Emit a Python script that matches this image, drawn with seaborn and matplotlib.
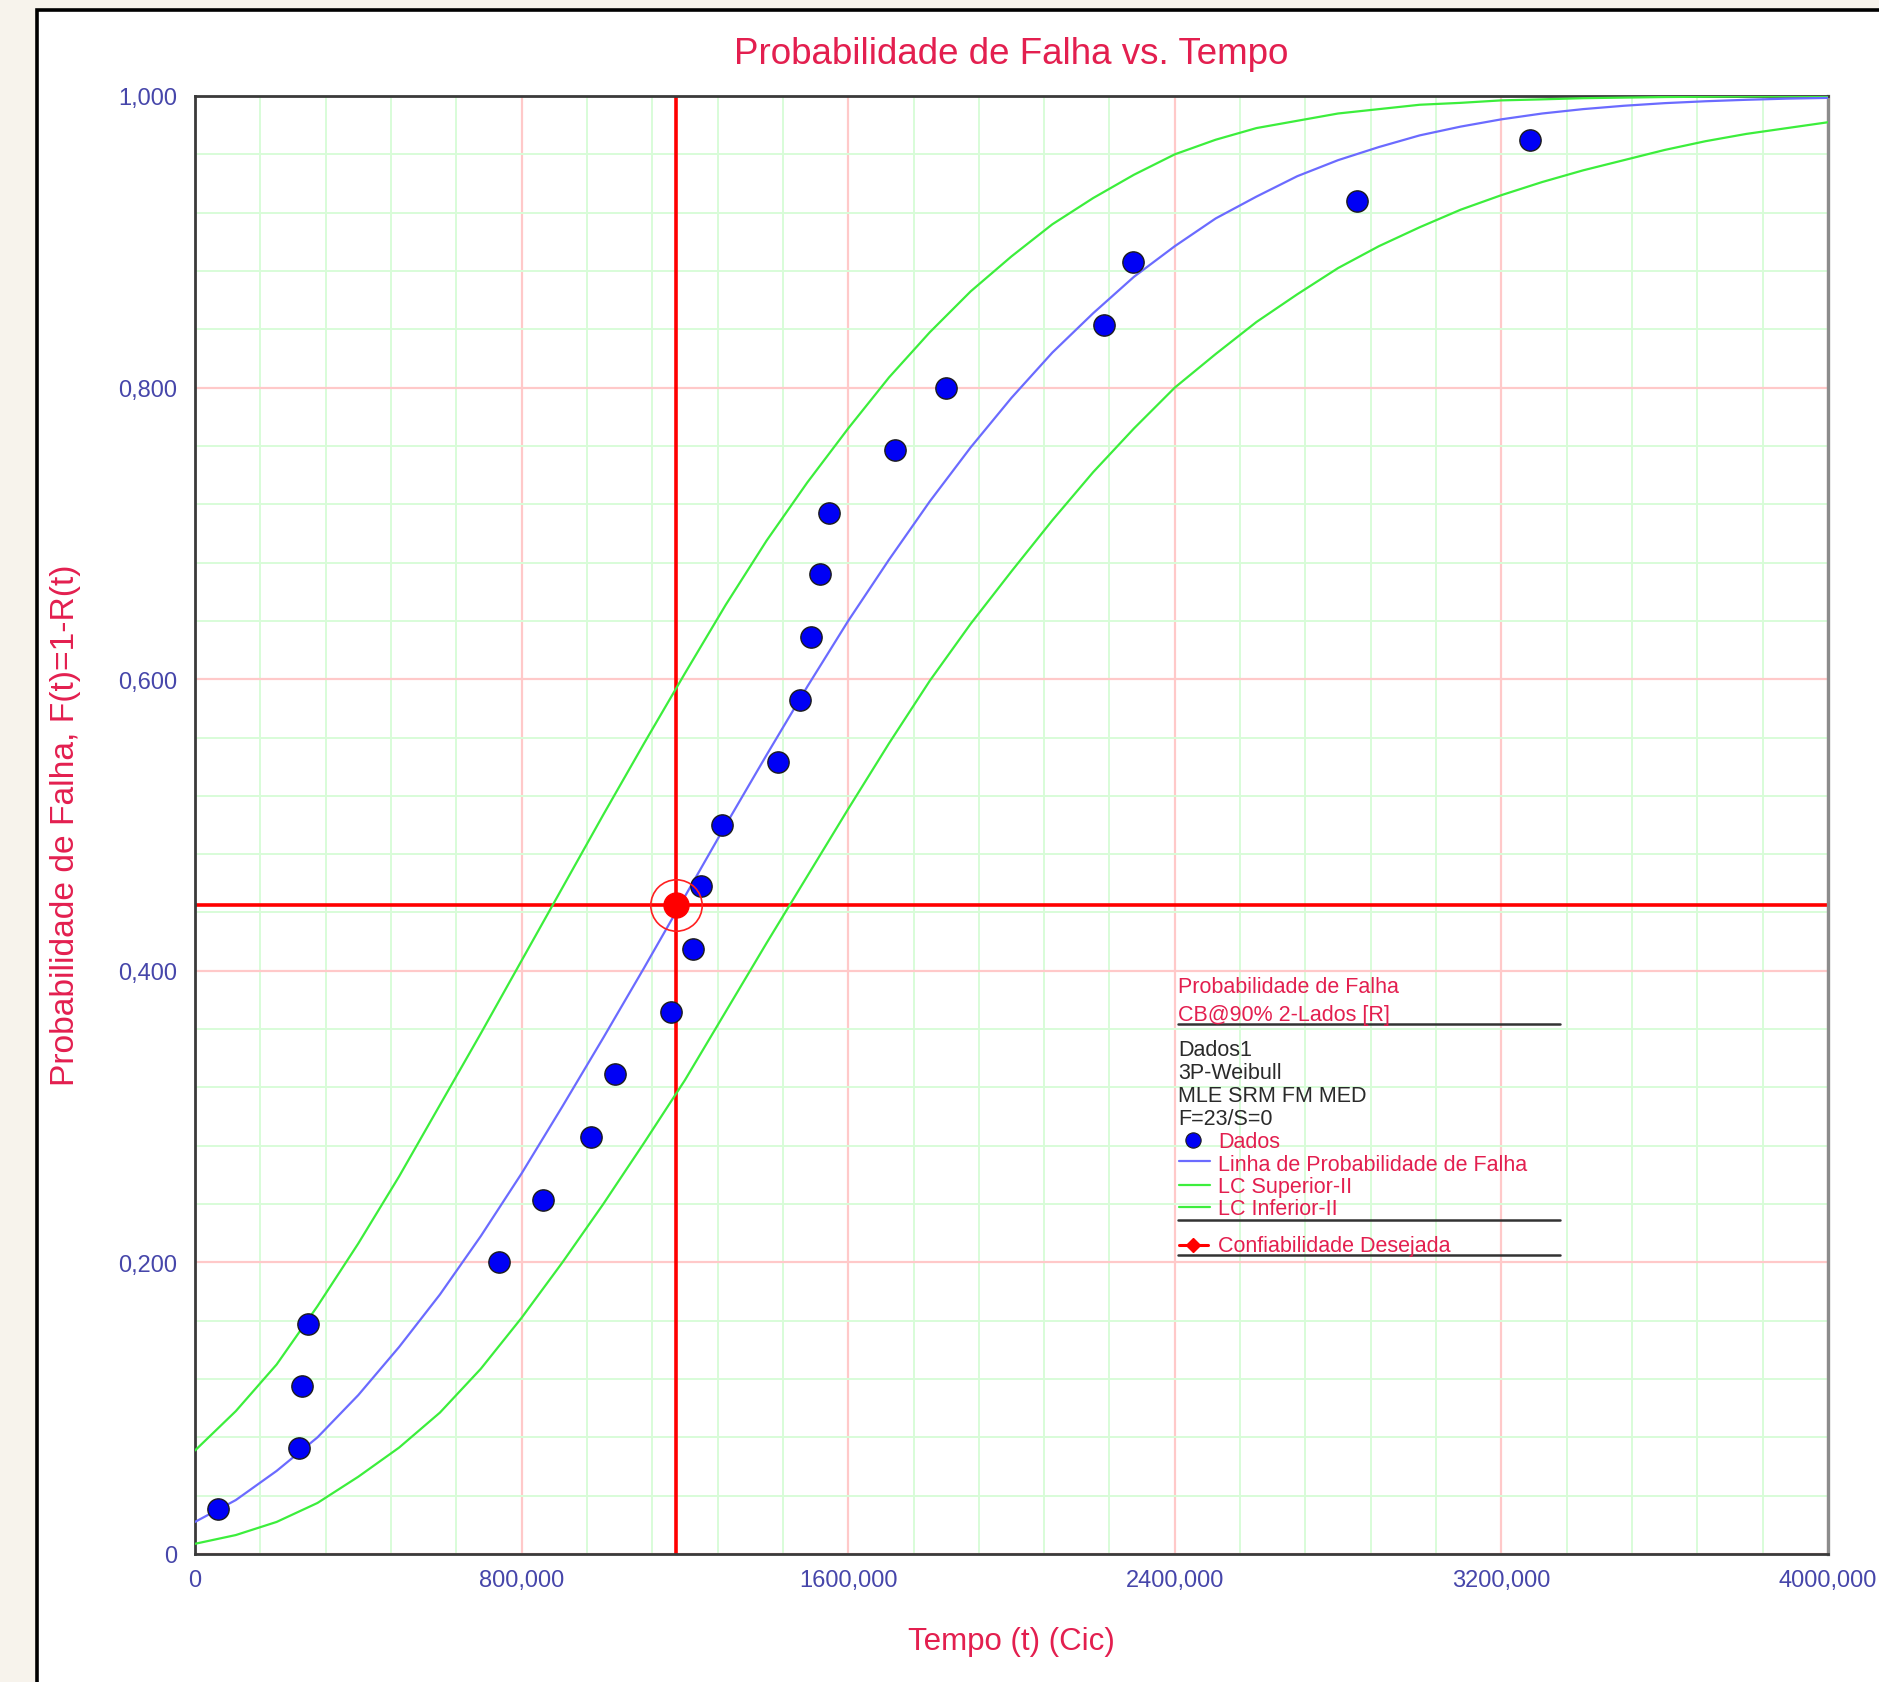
import numpy as np
import pandas as pd

import matplotlib
matplotlib.use("Agg")
import matplotlib.pyplot as plt
from matplotlib.patches import Rectangle
from matplotlib.lines import Line2D
import seaborn as sns

# --- dados ------------------------------------------------------------------
tempo_dados = [55600, 254700, 261300, 277600, 743600, 853000, 969000, 1028800,
               1165000, 1219600, 1240000, 1291000, 1427800, 1482000, 1510000,
               1530000, 1552000, 1713700, 1840500, 2227000, 2298000, 2847000,
               3269600]
prob_dados = [0.031, 0.073, 0.115, 0.158, 0.200, 0.243, 0.286, 0.329, 0.372,
              0.415, 0.458, 0.500, 0.543, 0.586, 0.629, 0.672, 0.714, 0.757,
              0.800, 0.843, 0.886, 0.928, 0.970]

# curvas lidas a cada 100.000 ciclos
tempo_curva = [0, 100000, 200000, 300000, 400000, 500000, 600000, 700000,
               800000, 900000, 1000000, 1100000, 1200000, 1300000, 1400000,
               1500000, 1600000, 1700000, 1800000, 1900000, 2000000, 2100000,
               2200000, 2300000, 2400000, 2500000, 2600000, 2700000, 2800000,
               2900000, 3000000, 3100000, 3200000, 3300000, 3400000, 3500000,
               3600000, 3700000, 3800000, 3900000, 4000000]
prob_linha = [0.022, 0.037, 0.057, 0.080, 0.109, 0.142, 0.178, 0.218, 0.261,
              0.307, 0.354, 0.402, 0.451, 0.500, 0.548, 0.595, 0.640, 0.682,
              0.722, 0.759, 0.793, 0.824, 0.851, 0.876, 0.897, 0.916, 0.931,
              0.945, 0.956, 0.965, 0.973, 0.979, 0.984, 0.988, 0.991, 0.9933,
              0.9951, 0.9964, 0.9974, 0.9982, 0.9987]
prob_superior = [0.071, 0.098, 0.130, 0.170, 0.213, 0.259, 0.308, 0.357,
                 0.407, 0.457, 0.507, 0.556, 0.604, 0.651, 0.695, 0.735,
                 0.772, 0.807, 0.838, 0.866, 0.890, 0.912, 0.930, 0.946,
                 0.960, 0.970, 0.978, 0.983, 0.988, 0.991, 0.994, 0.9953,
                 0.997, 0.9977, 0.9985, 0.9989, 0.9993, 0.9995, 0.9997,
                 0.9998, 0.9999]
prob_inferior = [0.007, 0.013, 0.022, 0.035, 0.053, 0.073, 0.097, 0.127,
                 0.162, 0.200, 0.240, 0.282, 0.325, 0.372, 0.419, 0.465,
                 0.511, 0.556, 0.599, 0.638, 0.674, 0.709, 0.742, 0.772,
                 0.800, 0.823, 0.845, 0.864, 0.882, 0.897, 0.910, 0.922,
                 0.932, 0.941, 0.949, 0.956, 0.963, 0.969, 0.974, 0.978,
                 0.982]

alvo_tempo = 1177500
alvo_prob = 0.445

ticks_x = [0, 800000, 1600000, 2400000, 3200000, 4000000]
rotulos_x = ["0", "800,000", "1600,000", "2400,000", "3200,000", "4000,000"]
ticks_y = [0, 0.2, 0.4, 0.6, 0.8, 1.0]
rotulos_y = ["0", "0,200", "0,400", "0,600", "0,800", "1,000"]

legenda_titulo = ["Probabilidade de Falha", "CB@90% 2-Lados [R]"]
legenda_info = ["Dados1", "3P-Weibull", "MLE SRM FM MED", "F=23/S=0"]
legenda_series = ["Dados", "Linha de Probabilidade de Falha",
                  "LC Superior-II", "LC Inferior-II"]
legenda_alvo = "Confiabilidade Desejada"

# --- cores -----------------------------------------------------------------
VERMELHO_TXT = "#e31f4f"
AZUL_TICK = "#4646aa"
AZUL_LINHA = "#6b6bff"
VERDE = "#3cee3c"
AZUL_PONTO = "#0000f5"

sns.set_style("white")
plt.rcParams["font.family"] = ["Liberation Sans", "DejaVu Sans"]

W, H = 1879, 1683
fig = plt.figure(figsize=(W / 100, H / 100), dpi=100)
fig.patch.set_facecolor("#f7f3ec")
fig.add_artist(Rectangle((37 / W, -0.05), 1.2, (H - 11) / H + 0.05,
                         transform=fig.transFigure, facecolor="white",
                         edgecolor="black", linewidth=2.6, zorder=-1))


def fx(px):
    return px / W


def fy(py):
    return 1 - py / H


ax = fig.add_axes([fx(195), 128 / H, 1633 / W, 1458 / H])
ax.set_facecolor("white")

df_curvas = pd.DataFrame({"tempo": tempo_curva, "linha": prob_linha,
                          "sup": prob_superior, "inf": prob_inferior})
df_dados = pd.DataFrame({"tempo": tempo_dados, "prob": prob_dados})

# grade
ax.set_xlim(0, 4000000)
ax.set_ylim(0, 1)
ax.set_xticks(ticks_x)
ax.set_xticklabels(rotulos_x)
ax.set_yticks(ticks_y)
ax.set_yticklabels(rotulos_y)
ax.set_xticks(np.arange(0, 4000001, 160000), minor=True)
ax.set_yticks(np.arange(0, 1.0001, 0.04), minor=True)
ax.set_axisbelow(True)
ax.grid(which="minor", color="#d8fcd8", linewidth=1.4)
ax.grid(which="major", color="#ffc9c9", linewidth=1.6)
ax.tick_params(which="minor", length=0)
ax.tick_params(axis="y", which="major", length=8, width=1.4, color="#3a3a3a",
               pad=5, labelsize=17, labelcolor=AZUL_TICK)
ax.tick_params(axis="x", which="major", length=4, width=1.4, color="#3a3a3a",
               pad=7, labelsize=17, labelcolor=AZUL_TICK)
for lado in ["left", "bottom", "top"]:
    ax.spines[lado].set_color("#3a3a3a")
    ax.spines[lado].set_linewidth(2.0)
ax.spines["right"].set_color("#8c8c8c")
ax.spines["right"].set_linewidth(2.4)

# linhas da confiabilidade desejada
ax.axvline(alvo_tempo, color="#ff0000", linewidth=2.6, zorder=2)
ax.axhline(alvo_prob, color="#ff0000", linewidth=2.6, zorder=2)

# curvas
sns.lineplot(data=df_curvas, x="tempo", y="sup", ax=ax, color=VERDE,
             linewidth=1.6, estimator=None, sort=False, zorder=3)
sns.lineplot(data=df_curvas, x="tempo", y="inf", ax=ax, color=VERDE,
             linewidth=1.6, estimator=None, sort=False, zorder=3)
sns.lineplot(data=df_curvas, x="tempo", y="linha", ax=ax, color=AZUL_LINHA,
             linewidth=1.6, estimator=None, sort=False, zorder=3)

# pontos
sns.scatterplot(data=df_dados, x="tempo", y="prob", ax=ax, s=235,
                color=AZUL_PONTO, edgecolor="#1c1c1c", linewidth=1.0,
                zorder=4)

# ponto alvo
ax.plot([alvo_tempo], [alvo_prob], "o", ms=18, color="#ff0000", zorder=5)
ax.plot([alvo_tempo], [alvo_prob], "o", ms=37, mfc="none", mec="#ff2020",
        mew=1.2, zorder=5)

ax.set_xlabel("")
ax.set_ylabel("")

# titulo e rotulos dos eixos
fig.text(fx(1011), fy(54), "Probabilidade de Falha vs. Tempo",
         color=VERMELHO_TXT, fontsize=26.5, ha="center", va="center")
fig.text(fx(1011), fy(1642), "Tempo (t) (Cic)", color=VERMELHO_TXT,
         fontsize=22.5, ha="center", va="center")
fig.text(fx(66), fy(825), "Probabilidade de Falha, F(t)=1-R(t)",
         color=VERMELHO_TXT, fontsize=24.2, ha="center", va="center",
         rotation=90)

# legenda desenhada a mao
leg_x = 1178
leg_txt = 1218
fs = 15.5
for txt, base in zip(legenda_titulo, [993, 1021]):
    fig.text(fx(leg_x), fy(base), txt, color=VERMELHO_TXT, fontsize=fs,
             va="baseline")
for txt, base in zip(legenda_info, [1056, 1079, 1102, 1125]):
    fig.text(fx(leg_x), fy(base), txt, color="#2a2a2a", fontsize=fs,
             va="baseline")
for txt, base in zip(legenda_series, [1148, 1171, 1193, 1215]):
    fig.text(fx(leg_txt), fy(base), txt, color=VERMELHO_TXT, fontsize=fs,
             va="baseline")
fig.text(fx(leg_txt), fy(1252), legenda_alvo, color=VERMELHO_TXT,
         fontsize=fs, va="baseline")

for yy in [1025, 1221, 1256]:
    fig.add_artist(Line2D([fx(leg_x), fx(1560)], [fy(yy), fy(yy)],
                          color="#333333", linewidth=1.8))
fig.add_artist(Line2D([fx(1193)], [fy(1141)], marker="o", ms=11,
                      color=AZUL_PONTO, mec="#1c1c1c", mew=0.8,
                      linestyle="none"))
for yy, cor in zip([1162, 1186, 1208], [AZUL_LINHA, VERDE, VERDE]):
    fig.add_artist(Line2D([fx(1179), fx(1210)], [fy(yy), fy(yy)],
                          color=cor, linewidth=1.6))
fig.add_artist(Line2D([fx(1179), fx(1208)], [fy(1246), fy(1246)],
                      color="#ff0000", linewidth=2.2))
fig.add_artist(Line2D([fx(1193)], [fy(1246)], marker="D", ms=7,
                      color="#ff0000", linestyle="none"))

fig.savefig("out.png", dpi=100, facecolor=fig.get_facecolor())
plt.close(fig)
